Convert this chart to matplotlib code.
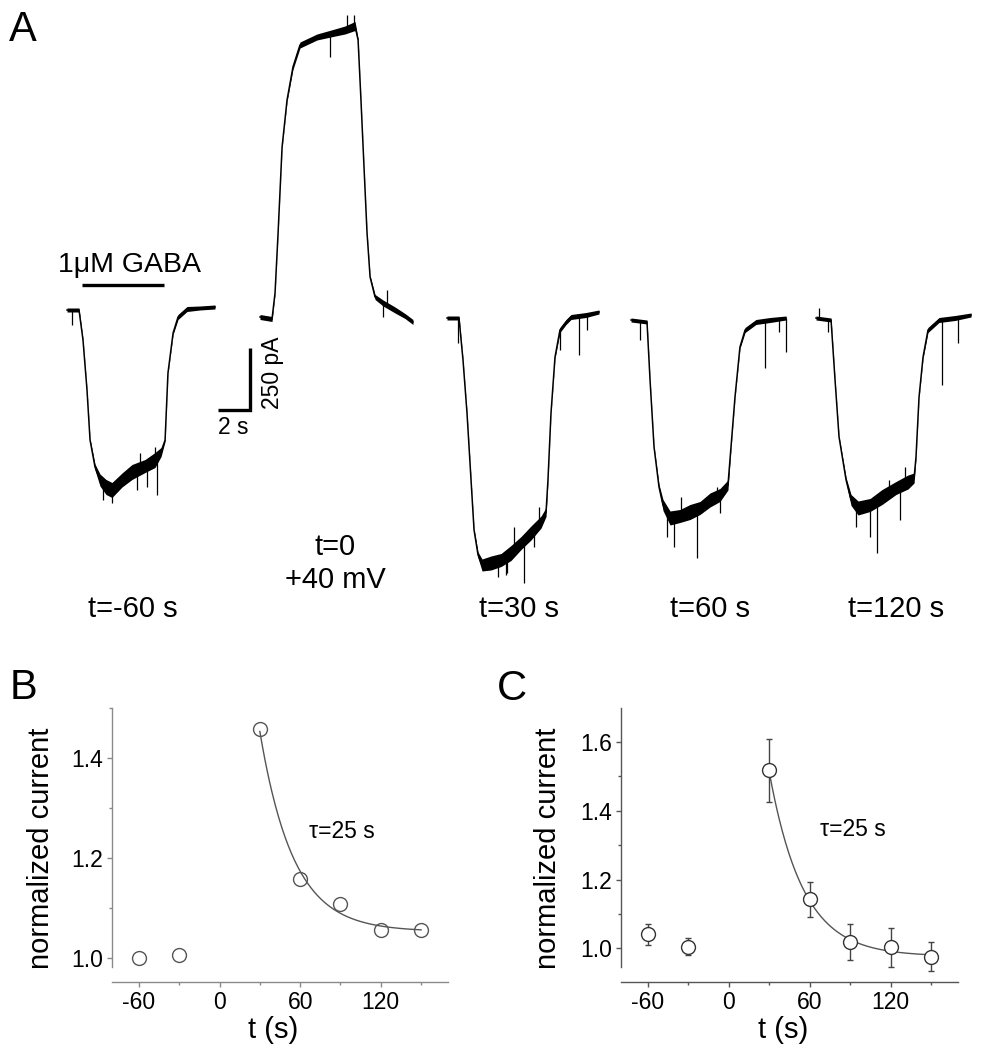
import numpy as np
import matplotlib
matplotlib.use("Agg")
import matplotlib.pyplot as plt
from matplotlib.ticker import MultipleLocator, FormatStrFormatter

plt.rcParams['font.family'] = ['Liberation Sans', 'DejaVu Sans']
plt.rcParams['axes.unicode_minus'] = False

# ---------------- Panel A: current traces (time in s, current in pA, noise half-width in pA)
tr1_t = [0, 0.75, 1.0, 1.25, 1.44, 1.75, 2.06, 2.44, 2.81, 3.44, 4.06, 4.88, 5.5, 5.88, 6.13, 6.31, 6.63, 6.94, 7.5, 8.31, 9.25]
tr1_i = [0, 0, -120, -320, -520, -628, -680, -708, -720, -680, -648, -624, -600, -568, -520, -252, -92, -28, 4, 8, 12]
tr1_n = [8, 8, 4, 4, 6, 12, 24, 30, 30, 28, 30, 26, 30, 18, 6, 4, 6, 10, 10, 8, 8]
tr1_spk_t = [0.31, 5.63, 2.25, 2.81, 4.38, 5.0, 5.5, 4.56]
tr1_spk_i = [-60, -740, -760, -772, -720, -708, -548, -572]

tr2_t = [0, 0.75, 0.94, 1.13, 1.38, 1.69, 2.06, 2.5, 3.56, 4.56, 5.31, 5.94, 6.13, 6.31, 6.5, 6.69, 6.88, 7.19, 7.69, 8.44, 9.06, 9.56]
tr2_i = [0, -8, 96, 336, 680, 868, 1000, 1088, 1120, 1136, 1148, 1164, 1108, 868, 600, 336, 160, 80, 56, 28, 4, -20]
tr2_n = [10, 10, 4, 4, 4, 6, 10, 12, 12, 14, 16, 18, 6, 4, 4, 4, 6, 10, 12, 12, 10, 10]
tr2_spk_t = [4.38, 5.44, 5.88, 7.69, 7.94]
tr2_spk_i = [1040, 1208, 1208, 0, 108]

tr3_t = [0, 0.75, 1.0, 1.25, 1.69, 1.94, 2.19, 2.75, 3.38, 4.0, 4.63, 5.25, 5.88, 6.19, 6.31, 6.5, 6.75, 7.06, 7.44, 7.75, 8.69, 9.5]
tr3_i = [0, 0, -168, -380, -848, -948, -988, -980, -968, -940, -900, -860, -816, -776, -648, -380, -156, -48, -16, 4, 12, 24]
tr3_n = [8, 8, 4, 4, 6, 12, 24, 28, 26, 30, 26, 28, 24, 18, 6, 4, 6, 10, 10, 10, 10, 8]
tr3_spk_t = [0.69, 7.06, 8.25, 8.75, 4.81, 3.69, 3.19, 3.75, 4.19, 5.44, 5.75]
tr3_spk_i = [-100, -128, -148, -48, -1060, -1028, -1036, -1020, -836, -916, -756]

tr4_t = [0, 1.0, 1.19, 1.44, 1.75, 2.0, 2.44, 3.06, 3.69, 4.31, 4.94, 5.56, 6.06, 6.25, 6.5, 6.81, 7.13, 7.81, 8.69, 9.69]
tr4_i = [8, 0, -232, -500, -660, -732, -784, -776, -760, -744, -712, -692, -652, -500, -300, -100, -32, 0, 8, 16]
tr4_n = [8, 8, 4, 4, 10, 22, 28, 26, 30, 26, 28, 26, 20, 6, 4, 6, 10, 10, 10, 8]
tr4_spk_t = [0.56, 4.13, 8.38, 9.69, 9.25, 2.22, 2.69, 3.13, 5.56, 5.38]
tr4_spk_i = [-72, -944, -184, -120, -40, -860, -900, -700, -764, -660]

tr5_t = [0, 0.94, 1.19, 1.44, 1.88, 2.19, 2.63, 3.38, 4.13, 5.0, 5.75, 6.13, 6.25, 6.44, 6.69, 7.0, 7.69, 8.69, 9.69]
tr5_i = [8, 0, -240, -468, -640, -720, -752, -740, -708, -672, -648, -632, -548, -308, -148, -40, 0, 8, 20]
tr5_n = [8, 8, 4, 4, 10, 22, 28, 26, 30, 26, 28, 20, 6, 4, 6, 10, 10, 10, 8]
tr5_spk_t = [0.19, 0.75, 7.88, 8.88, 3.38, 3.81, 5.25, 2.53, 4.56, 5.56]
tr5_spk_i = [48, -48, -260, -92, -868, -932, -800, -828, -640, -588]

trace_labels = ["t=-60 s", "t=0", "t=30 s", "t=60 s", "t=120 s"]
trace_sublabels = ["", "+40 mV", "", "", ""]
gaba_label = "1\u03bcM GABA"
scale_t = 2      # s
scale_i = 250    # pA

# ---------------- Panel B data
b_t = [-60, -30, 30, 60, 90, 120, 150]
b_y = [1.000, 1.006, 1.459, 1.159, 1.108, 1.056, 1.056]
b_fit_amp, b_fit_off = 0.40, 1.053
# ---------------- Panel C data
c_t = [-60, -30, 30, 60, 90, 120, 150]
c_y = [1.041, 1.005, 1.517, 1.142, 1.019, 1.003, 0.976]
c_err = [0.030, 0.025, 0.092, 0.050, 0.053, 0.056, 0.042]
c_fit_amp, c_fit_off = 0.535, 0.977
tau = 25.0
fit_start = 30
fit_end = 150

W, H = 990, 1050
fig = plt.figure(figsize=(W / 100, H / 100), dpi=100)

# ---------- Panel A axes: 16 px per s, 4 pA per px
axA = fig.add_axes([0, 0.4, 1, 0.6])
axA.set_xlim(0, W / 16)
axA.set_ylim(-(630 - 310) * 4, 310 * 4)
axA.axis('off')

traces = [
    (tr1_t, tr1_i, tr1_n, tr1_spk_t, tr1_spk_i),
    (tr2_t, tr2_i, tr2_n, tr2_spk_t, tr2_spk_i),
    (tr3_t, tr3_i, tr3_n, tr3_spk_t, tr3_spk_i),
    (tr4_t, tr4_i, tr4_n, tr4_spk_t, tr4_spk_i),
    (tr5_t, tr5_i, tr5_n, tr5_spk_t, tr5_spk_i),
]
t_off = [67 / 16, 260 / 16, 447 / 16, 631 / 16, 816 / 16]
i_off = [0, -28, -32, -48, -40]
lab_x = [133 / 16, 335 / 16, 519 / 16, 710 / 16, 896 / 16]

for k, (t, i, n, st, si) in enumerate(traces):
    t = np.asarray(t) + t_off[k]
    i = np.asarray(i) + i_off[k]
    n = np.asarray(n)
    axA.fill_between(t, i - n, i + n, color='black', lw=0)
    axA.plot(t, i, color='black', lw=1.1)
    st = np.asarray(st) + t_off[k]
    base = np.interp(st, t, i)
    axA.vlines(st, base, np.asarray(si) + i_off[k], color='black', lw=0.9)
    if trace_sublabels[k]:
        axA.text(lab_x[k], -980, trace_labels[k], ha='center', va='baseline', fontsize=21)
        axA.text(lab_x[k], -1112, trace_sublabels[k], ha='center', va='baseline', fontsize=21)
    else:
        axA.text(lab_x[k], -1228, trace_labels[k], ha='center', va='baseline', fontsize=21)

# GABA application bar
axA.plot([82 / 16, 164 / 16], [100, 100], color='black', lw=2.4, solid_capstyle='butt')
axA.text(130 / 16, 152, gaba_label, ha='center', va='baseline', fontsize=20.5)

# scale bar
sx, sy = 250 / 16, -400
axA.plot([sx - scale_t, sx, sx], [sy, sy, sy + scale_i], color='black', lw=2.4,
         solid_joinstyle='miter', solid_capstyle='butt')
axA.text(sx - scale_t / 2 - 0.05, sy - 24, f"{scale_t} s", ha='center', va='top', fontsize=16.5)
axA.text(273 / 16, sy + 148, f"{scale_i} pA", ha='center', va='center', rotation=90, fontsize=16.5)

# panel letters
fig.text(9 / W, 1 - 41 / H, "A", fontsize=30, va='baseline')
fig.text(10 / W, 1 - 699 / H, "B", fontsize=30, va='baseline')
fig.text(497 / W, 1 - 700 / H, "C", fontsize=30, va='baseline')


def style_axis(ax, col):
    for s in ['top', 'right']:
        ax.spines[s].set_visible(False)
    ax.spines['left'].set_color(col)
    ax.spines['bottom'].set_color(col)
    ax.spines['left'].set_linewidth(1.0)
    ax.spines['bottom'].set_linewidth(1.0)
    ax.spines['bottom'].set_position(('outward', 10.8))
    ax.set_xlim(-80, 170)
    ax.xaxis.set_major_locator(MultipleLocator(60))
    ax.xaxis.set_minor_locator(MultipleLocator(30))
    ax.yaxis.set_major_locator(MultipleLocator(0.2))
    ax.yaxis.set_minor_locator(MultipleLocator(0.1))
    ax.tick_params(which='major', direction='out', length=3.5, width=1, color=col,
                   labelsize=16.5, pad=3)
    ax.tick_params(which='minor', direction='out', length=2.5, width=1, color=col)
    ax.yaxis.set_major_formatter(FormatStrFormatter('%.1f'))
    ax.set_xlabel("t (s)", fontsize=21)
    ax.set_ylabel("normalized current", fontsize=21)
    ax.patch.set_alpha(0)


fit_t = np.linspace(fit_start, fit_end, 200)

# ---------- Panel B
axB = fig.add_axes([112 / W, 1 - 967 / H, 336 / W, 259 / H])
style_axis(axB, '#8a8a8a')
axB.set_ylim(0.982, 1.5)
axB.plot(fit_t, b_fit_off + b_fit_amp * np.exp(-(fit_t - fit_start) / tau), color='#555555', lw=1)
axB.plot(b_t, b_y, 'o', mfc='none', mec='#555555', ms=10, mew=1, clip_on=False)
axB.text(66.7, 1.24, "\u03c4=25 s", fontsize=16.5, va='baseline')
axB.xaxis.set_label_coords(0.48, -0.19)
axB.yaxis.set_label_coords(-0.17, 0.46)

# ---------- Panel C
axC = fig.add_axes([621 / W, 1 - 967 / H, 337 / W, 259 / H])
style_axis(axC, '#555555')
axC.set_ylim(0.946, 1.698)
axC.plot(fit_t, c_fit_off + c_fit_amp * np.exp(-(fit_t - fit_start) / tau), color='#555555', lw=1)
axC.errorbar(c_t, c_y, yerr=c_err, fmt='o', mfc='white', mec='#333333', ms=10, mew=1,
             ecolor='#444444', elinewidth=1, capsize=2.5, capthick=1, clip_on=False)
axC.text(67.4, 1.325, "\u03c4=25 s", fontsize=16.5, va='baseline')
axC.xaxis.set_label_coords(0.48, -0.19)
axC.yaxis.set_label_coords(-0.175, 0.46)

fig.savefig("out.png", dpi=100)
